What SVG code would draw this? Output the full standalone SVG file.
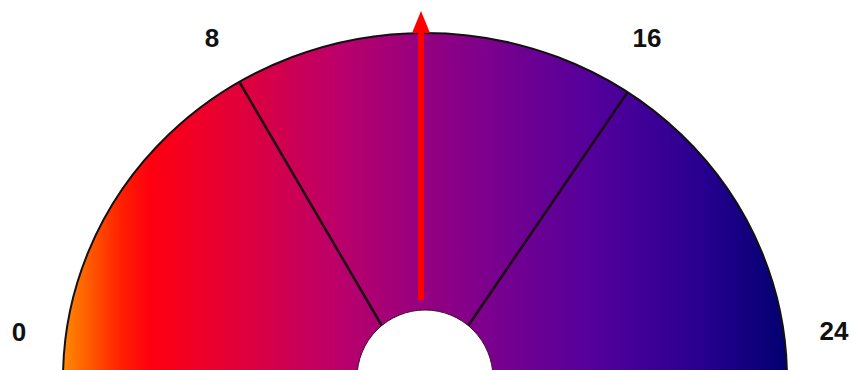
<svg xmlns="http://www.w3.org/2000/svg" width="851" height="370" viewBox="0 0 851 370">
<style>
.lbl{font-family:"Liberation Sans",Arial,sans-serif;font-weight:bold;font-size:26px;fill:#111;text-anchor:middle}
.spoke{stroke:#1a0a14;stroke-width:2.5;fill:none}
</style>
<defs>
<linearGradient id="g" gradientUnits="userSpaceOnUse" x1="63" y1="0" x2="787" y2="0">
<stop offset="0" stop-color="#ff8a00"/>
<stop offset="0.08" stop-color="#ff2000"/>
<stop offset="0.12" stop-color="#ff0010"/>
<stop offset="0.26" stop-color="#dc0040"/>
<stop offset="0.38" stop-color="#bb006a"/>
<stop offset="0.5" stop-color="#950080"/>
<stop offset="0.6" stop-color="#78008f"/>
<stop offset="0.74" stop-color="#52009c"/>
<stop offset="0.88" stop-color="#280090"/>
<stop offset="1" stop-color="#020070"/>
</linearGradient>
</defs>
<g id="dial">
<ellipse cx="425" cy="379" rx="362" ry="346" fill="url(#g)" stroke="#111" stroke-width="2"/>
</g>
<g id="connectors">
<line class="spoke" x1="240" y1="83" x2="382" y2="326"/>
<line class="spoke" x1="627" y1="93" x2="468" y2="326"/>
</g>
<g id="hub">
<circle cx="425" cy="378" r="68" fill="#fff" stroke="#3a1030" stroke-width="1"/>
</g>
<g id="needle">
<rect x="418" y="30" width="6" height="270" fill="#ff0000"/>
<polygon points="421,11 412,33 430,33" fill="#ff0000"/>
</g>
<g id="labels">
<text class="lbl" x="19" y="341">0</text>
<text class="lbl" x="212" y="47">8</text>
<text class="lbl" x="647" y="47">16</text>
<text class="lbl" x="834" y="340">24</text>
</g>
</svg>
